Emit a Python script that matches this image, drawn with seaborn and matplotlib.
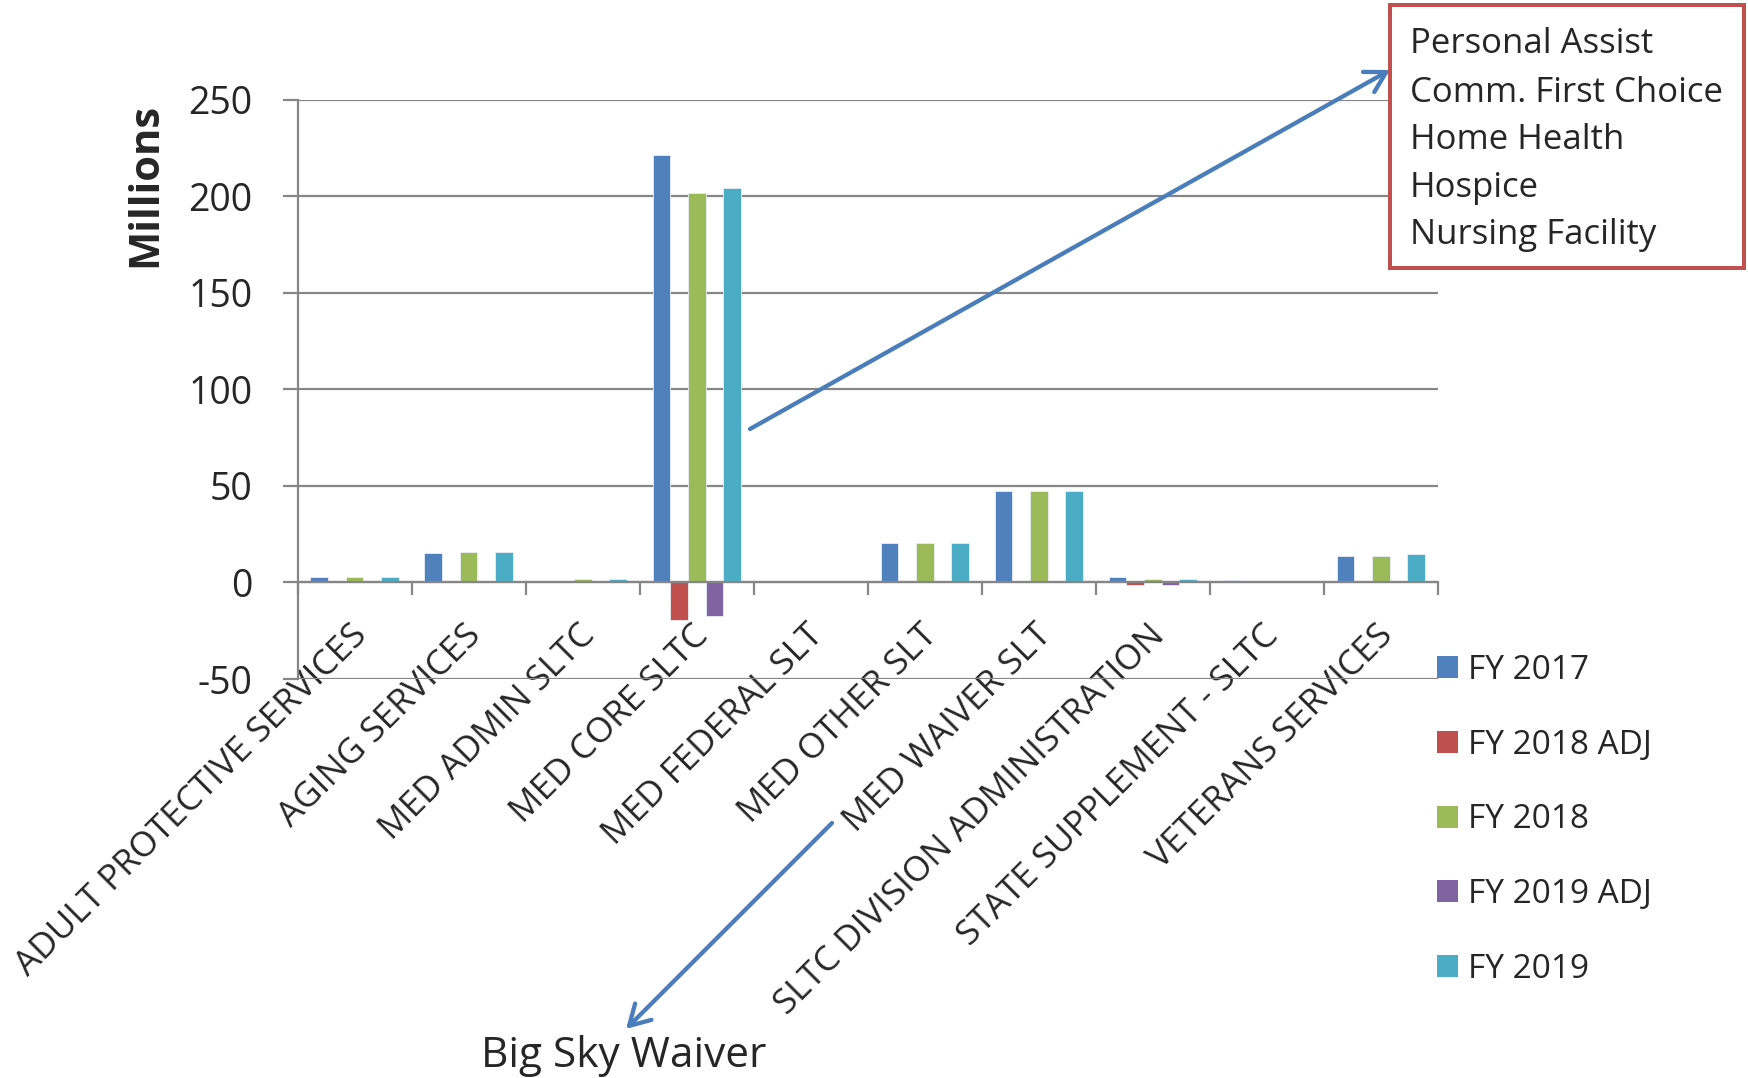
import numpy as np
import pandas as pd
import matplotlib
matplotlib.use("Agg")
import matplotlib.pyplot as plt
import matplotlib.transforms as mtransforms
from matplotlib.patches import Rectangle, Patch, FancyArrowPatch
import seaborn as sns

# ---------------- data ----------------
categories = [
    "ADULT PROTECTIVE SERVICES", "AGING SERVICES", "MED ADMIN SLTC",
    "MED CORE SLTC", "MED FEDERAL SLT", "MED OTHER SLT", "MED WAIVER SLT",
    "SLTC DIVISION ADMINISTRATION", "STATE SUPPLEMENT - SLTC", "VETERANS SERVICES",
]
series = ["FY 2017", "FY 2018 ADJ", "FY 2018", "FY 2019 ADJ", "FY 2019"]
fy2017 = [2.6, 15.0, 0.7, 221.3, 1.0, 20.2, 47.3, 3.0, 1.1, 13.8]
fy2018_adj = [0.0, 0.0, 0.3, -19.6, 0.0, 0.0, 0.0, -1.2, 0.0, 0.0]
fy2018 = [3.0, 15.7, 1.7, 201.6, 1.0, 20.2, 47.3, 1.8, 1.0, 13.7]
fy2019_adj = [0.0, 0.0, 0.3, -17.4, 0.0, 0.0, 0.0, -1.2, 0.0, 0.0]
fy2019 = [3.0, 15.7, 1.7, 204.1, 1.0, 20.2, 47.3, 1.8, 1.0, 14.5]
y_ticks = [-50, 0, 50, 100, 150, 200, 250]
y_label = "Millions"
box_lines = ["Personal Assist", "Comm. First Choice", "Home Health",
             "Hospice", "Nursing Facility"]
arrow_text = "Big Sky Waiver"

colors = ["#4F81BD", "#C0504D", "#9BBB59", "#8064A2", "#4BACC6"]
GRAY = "#868686"
ARROW = "#4A7EBB"

values = [fy2017, fy2018_adj, fy2018, fy2019_adj, fy2019]
rows = []
for s, vals in zip(series, values):
    for c, v in zip(categories, vals):
        rows.append({"category": c, "series": s, "value": v})
df = pd.DataFrame(rows)

# ---------------- figure ----------------
sns.set_style("white")
plt.rcParams["font.family"] = ["Open Sans", "DejaVu Sans"]

W, H = 1748, 1078
fig = plt.figure(figsize=(W / 100, H / 100), dpi=100)
px = lambda v: v * 72 / 100  # pixels -> points

left, right = 297.6, 1438.0
top, bottom = 99.6, 679.0
ax = fig.add_axes([left / W, 1 - bottom / H, (right - left) / W, (bottom - top) / H])

sns.barplot(data=df, x="category", y="value", hue="series",
            order=categories, hue_order=series, palette=colors,
            width=0.775, gap=0, saturation=1, errorbar=None,
            edgecolor="#E8EEF6", linewidth=0.6, legend=False, ax=ax)

ax.set_xlim(-0.5, len(categories) - 0.5)
ax.set_ylim(-50, 250)
ax.set_yticks(y_ticks)
ax.set_yticklabels([str(t) for t in y_ticks], fontsize=27)
ax.set_xlabel("")
ax.set_ylabel("")

ax.set_axisbelow(True)
ax.yaxis.grid(True, color=GRAY, linewidth=px(2.2))
ax.xaxis.grid(False)

for s in ["top", "right"]:
    ax.spines[s].set_visible(False)
ax.spines["left"].set_color(GRAY)
ax.spines["left"].set_linewidth(px(2.2))
ax.spines["bottom"].set_position(("data", 0))
ax.spines["bottom"].set_color(GRAY)
ax.spines["bottom"].set_linewidth(px(2.2))

ax.tick_params(axis="y", direction="out", length=px(15), width=px(2.2),
               color=GRAY, pad=px(30), labelsize=27, left=True)
ax.set_xticks(np.arange(len(categories)))
ax.set_xticks(np.arange(len(categories) + 1) - 0.5, minor=True)
ax.tick_params(axis="x", which="major", length=0, pad=0, bottom=True)
ax.tick_params(axis="x", which="minor", direction="out", length=px(13),
               width=px(2.2), color=GRAY, bottom=True)
ax.set_xticklabels(categories, rotation=45, ha="right", va="top",
                   rotation_mode="anchor", fontsize=25.3)
offset = mtransforms.ScaledTranslation(-5 / 100, -36 / 100, fig.dpi_scale_trans)
for lbl in ax.get_xticklabels():
    lbl.set_transform(lbl.get_transform() + offset)

# y label
fig.text(146 / W, 1 - 185 / H, y_label, rotation=90, ha="center", va="center",
         fontsize=30, fontweight="bold")

# legend
handles = [Patch(facecolor=c, edgecolor="none") for c in colors]
fs_leg = 24
fig.legend(handles, series, loc="upper left",
           bbox_to_anchor=(1437 / W, 1 - 654 / H), bbox_transform=fig.transFigure,
           frameon=False, fontsize=fs_leg, handlelength=0.64, handleheight=0.64,
           handletextpad=0.3, labelspacing=1.25, borderpad=0, borderaxespad=0)

# red box with text
box = Rectangle((1390 / W, 1 - 268 / H), 354 / W, 263 / H, transform=fig.transFigure,
                facecolor="white", edgecolor="#C0504D", linewidth=px(4), zorder=5)
fig.patches.append(box)
baselines = [53, 102, 149, 197, 244]
for t, yb in zip(box_lines, baselines):
    fig.text(1410 / W, 1 - yb / H, t, ha="left", va="baseline", fontsize=25, zorder=6)

# arrows
def fig_arrow(x0, y0, x1, y1):
    a = FancyArrowPatch((x0 / W, 1 - y0 / H), (x1 / W, 1 - y1 / H),
                        transform=fig.transFigure,
                        arrowstyle="->,head_length=1.45,head_width=0.83",
                        mutation_scale=10, color=ARROW, linewidth=px(4.3),
                        shrinkA=0, shrinkB=0, zorder=4)
    fig.patches.append(a)

fig_arrow(750, 429, 1390, 70)
fig_arrow(832, 823, 626, 1029)

fig.text(624 / W, 1 - 1067 / H, arrow_text, ha="center", va="baseline", fontsize=30.5)

fig.savefig("out.png", dpi=100)
